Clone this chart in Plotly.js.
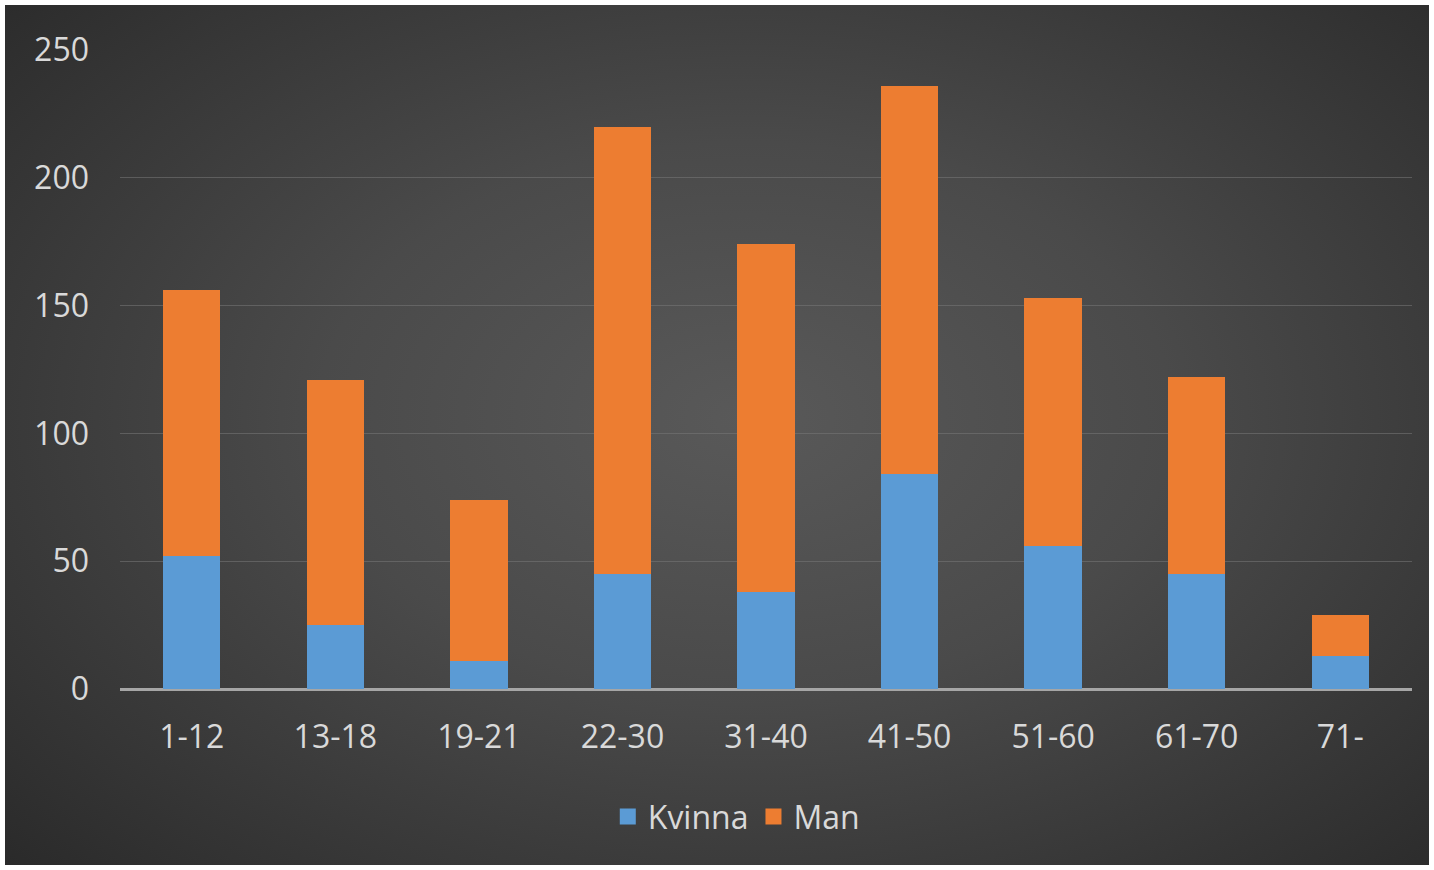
<!DOCTYPE html>
<html>
<head>
<meta charset="utf-8">
<script src="https://cdn.plot.ly/plotly-3.0.1.min.js"></script>
<style>
  html, body { margin: 0; padding: 0; background: #ffffff; width: 1434px; height: 870px; overflow: hidden; }
  #chart {
    position: absolute; left: 5px; top: 5px; width: 1424px; height: 860px;
    background: radial-gradient(ellipse 75% 80% at 52% 48%, #595959 0%, #4a4a4a 40%, #303030 85%, #272727 100%);
  }
</style>
</head>
<body>
<div id="chart"></div>
<script>
const categories = ['1-12', '13-18', '19-21', '22-30', '31-40', '41-50', '51-60', '61-70', '71-'];
const kvinna = [52, 25, 11, 45, 38, 84, 56, 45, 13];
const man = [104, 96, 63, 175, 136, 152, 97, 77, 16];
const yTicks = [0, 50, 100, 150, 200, 250];
const seriesNames = ['Kvinna', 'Man'];
const seriesColors = ['#5b9bd5', '#ed7d31'];

const fontFam = '"Open Sans", "Noto Sans", "DejaVu Sans", sans-serif';

const traces = [
  { type: 'bar', name: seriesNames[0], x: categories, y: kvinna, legendgroup: 'k', showlegend: false,
    marker: { color: seriesColors[0], line: { width: 0 } }, hoverinfo: 'none' },
  { type: 'bar', name: seriesNames[1], x: categories, y: man, legendgroup: 'm', showlegend: false,
    marker: { color: seriesColors[1], line: { width: 0 } }, hoverinfo: 'none' },
  { type: 'scatter', mode: 'markers', name: seriesNames[0], x: [null], y: [null], legendgroup: 'k',
    marker: { symbol: 'square', size: 18, color: seriesColors[0] }, hoverinfo: 'none' },
  { type: 'scatter', mode: 'markers', name: seriesNames[1], x: [null], y: [null], legendgroup: 'm',
    marker: { symbol: 'square', size: 18, color: seriesColors[1] }, hoverinfo: 'none' }
];

const layout = {
  width: 1424, height: 860,
  paper_bgcolor: 'rgba(0,0,0,0)',
  plot_bgcolor: 'rgba(0,0,0,0)',
  barmode: 'stack',
  bargap: 0.6,
  margin: { l: 115, r: 17, t: 45, b: 176 },
  font: { family: fontFam, color: '#d9d9d9', size: 32 },
  xaxis: {
    type: 'category', categoryarray: categories,
    showgrid: false, showline: false, zeroline: false,
    ticks: '', ticklabelstandoff: 26,
    tickfont: { size: 32, color: '#d9d9d9' }
  },
  yaxis: {
    range: [0, 250],
    tickvals: yTicks, ticktext: yTicks.map(String),
    showgrid: true, gridcolor: 'rgba(120,120,120,0.55)', gridwidth: 1,
    zeroline: true, zerolinecolor: '#a6a6a6', zerolinewidth: 3,
    showline: false, ticks: '', ticklabelstandoff: 30,
    tickfont: { size: 32, color: '#d9d9d9' }
  },
  showlegend: true,
  legend: {
    orientation: 'h', traceorder: 'normal',
    x: 0.477, xanchor: 'center', y: -0.2, yanchor: 'middle',
    bgcolor: 'rgba(0,0,0,0)',
    font: { size: 32, color: '#d9d9d9' },
    itemwidth: 30
  }
};

Plotly.newPlot('chart', traces, layout, { staticPlot: true, displayModeBar: false });
</script>
</body>
</html>
